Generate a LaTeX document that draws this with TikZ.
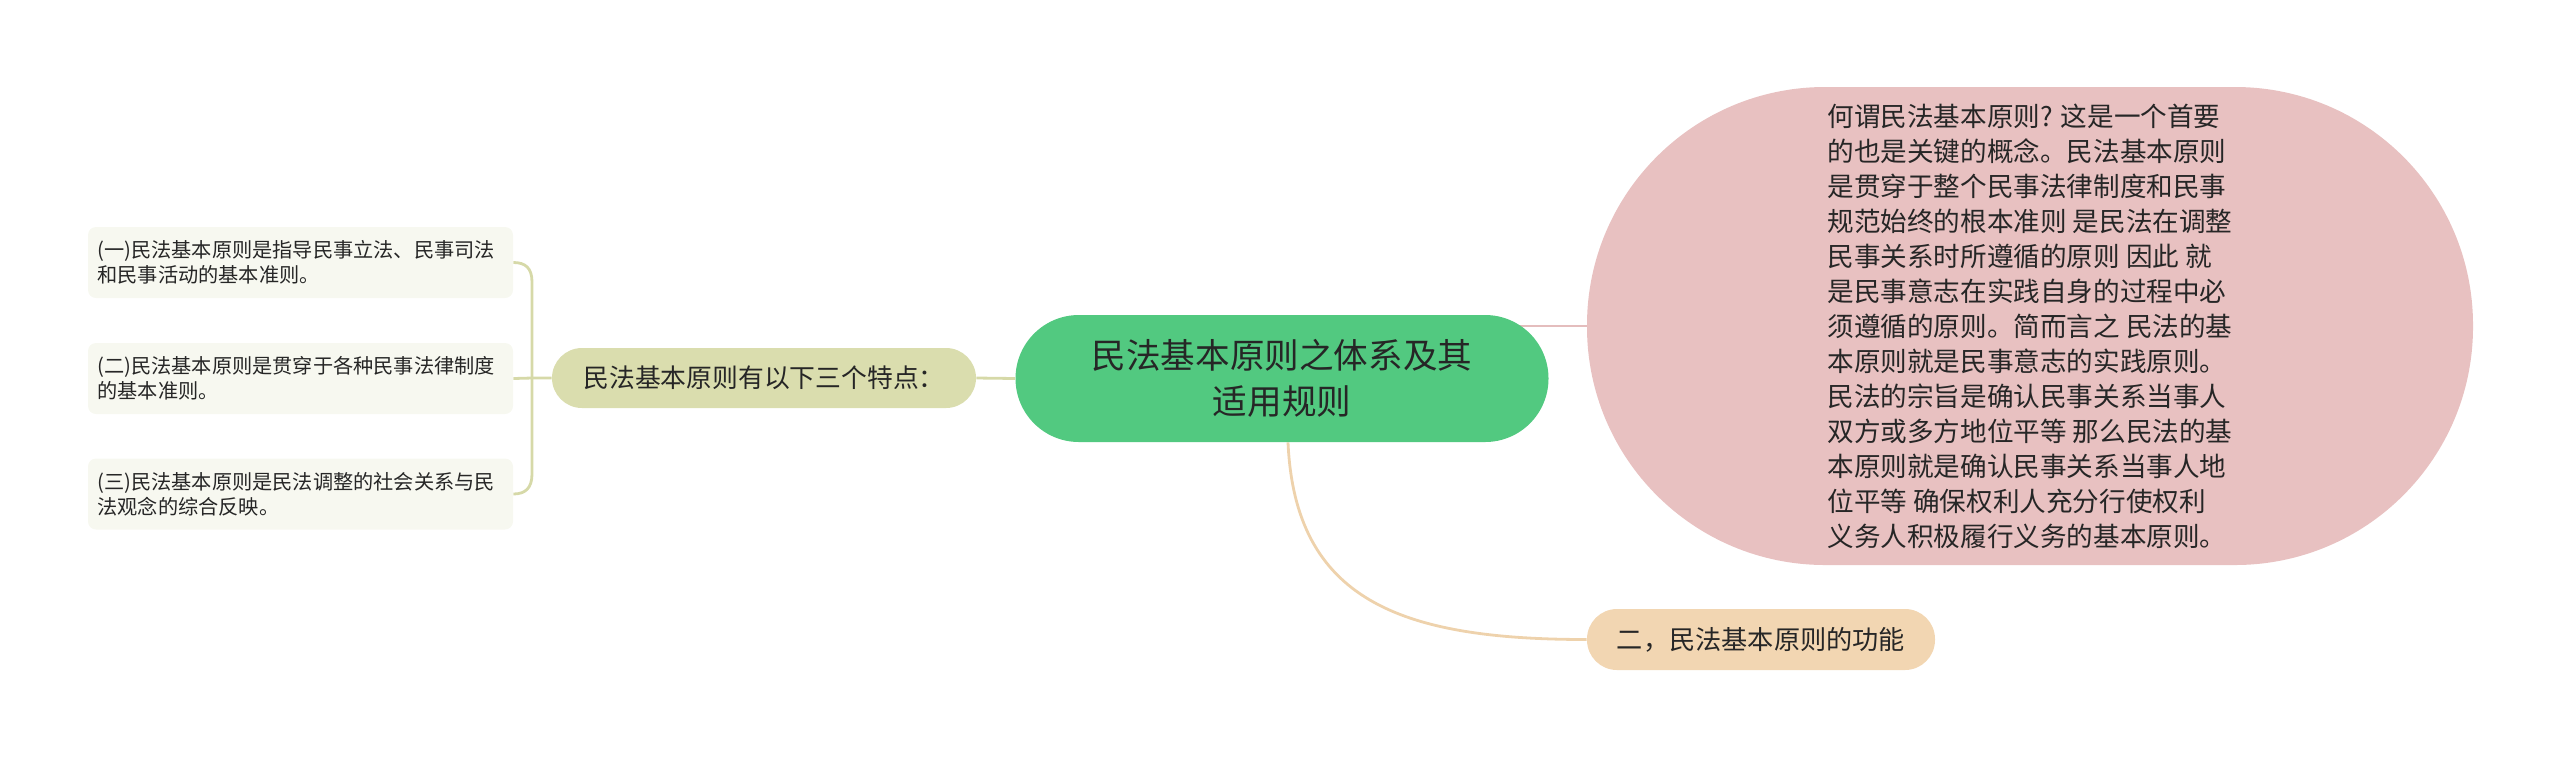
\documentclass[tikz,border=0pt]{standalone}
\usepackage{fontspec}
\newfontfamily\cjk{Noto Sans CJK SC}
\usetikzlibrary{backgrounds}
\definecolor{rootgreen}{RGB}{82,201,128}
\definecolor{pinkfill}{RGB}{232,193,193}
\definecolor{pinkline}{RGB}{228,189,189}
\definecolor{peachfill}{RGB}{242,214,178}
\definecolor{peachline}{RGB}{238,210,172}
\definecolor{olivefill}{RGB}{218,221,174}
\definecolor{oliveline}{RGB}{214,217,168}
\definecolor{leaffill}{RGB}{247,248,240}
\definecolor{txt}{RGB}{38,38,38}
\tikzset{
  base/.style={inner sep=0pt, text=txt},
  rootbox/.style={base, fill=rootgreen, minimum width=266.5pt, minimum height=63.5pt,
    rounded corners=31.7pt, align=center, font=\cjk\fontsize{17.3pt}{23.3pt}\selectfont},
  pinkbox/.style={base, fill=pinkfill, minimum width=443pt, minimum height=239pt,
    rounded corners=119pt, align=left, font=\cjk\fontsize{13.3pt}{17.5pt}\selectfont},
  pillbox/.style={base, minimum height=30.5pt, rounded corners=15pt,
    font=\cjk\fontsize{12.9pt}{15pt}\selectfont},
  leafbox/.style={base, fill=leaffill, minimum width=212.5pt, minimum height=35.5pt,
    rounded corners=4pt, text width=203pt, align=left,
    font=\cjk\fontsize{10.1pt}{12.5pt}\selectfont},
  link/.style={line width=1.4pt}
}
\begin{document}
\begin{tikzpicture}[x=0.5pt,y=-0.5pt]
\useasboundingbox (0,0) rectangle (2560,757);

\node[rootbox] (root) at (1282,378.5) {民法基本原则之体系及其\\适用规则};

\node[pinkbox] (pink) at (2030,326) {何谓民法基本原则? 这是一个首要\\
的也是关键的概念。民法基本原则\\
是贯穿于整个民事法律制度和民事\\
规范始终的根本准则 是民法在调整\\
民事关系时所遵循的原则 因此 就\\
是民事意志在实践自身的过程中必\\
须遵循的原则。简而言之 民法的基\\
本原则就是民事意志的实践原则。\\
民法的宗旨是确认民事关系当事人\\
双方或多方地位平等 那么民法的基\\
本原则就是确认民事关系当事人地\\
位平等 确保权利人充分行使权利\\
义务人积极履行义务的基本原则。};

\node[pillbox, fill=peachfill, minimum width=174pt, font=\cjk\fontsize{13.1pt}{15pt}\selectfont] (peach) at (1761,639.5) {二，民法基本原则的功能};

\node[pillbox, fill=olivefill, minimum width=212pt, minimum height=30pt] (leftn) at (764,378) {民法基本原则有以下三个特点：};

\node[leafbox] (leaf1) at (300.5,262.5) {(一)民法基本原则是指导民事立法、民事司法\\和民事活动的基本准则。};
\node[leafbox] (leaf2) at (300.5,378.5) {(二)民法基本原则是贯穿于各种民事法律制度\\的基本准则。};
\node[leafbox] (leaf3) at (300.5,494) {(三)民法基本原则是民法调整的社会关系与民\\法观念的综合反映。};

\coordinate (bj) at (532,378);

\begin{pgfonlayer}{background}
  \draw[link, draw=pinkline] (root.center |- pink.west) -- (pink.west);
  \draw[link, draw=peachline] ([xshift=3pt]root.south) .. controls (1295,600) and (1400,639.5) .. (peach.west);
  \draw[link, draw=oliveline] (root.west) -- (leftn.east);
  \draw[link, draw=oliveline] (leftn.west) -- (bj) -- (leaf2.east);
  \draw[link, draw=oliveline] (bj) -- ++(0,-96) .. controls +(0,-14) and +(12,0) .. (leaf1.east);
  \draw[link, draw=oliveline] (bj) -- ++(0,96) .. controls +(0,14) and +(12,0) .. (leaf3.east);
\end{pgfonlayer}
\end{tikzpicture}
\end{document}
